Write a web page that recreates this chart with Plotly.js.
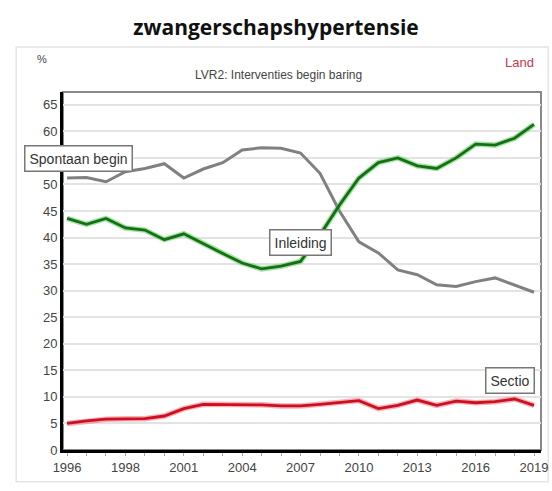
<!DOCTYPE html>
<html>
<head>
<meta charset="utf-8">
<script src="https://cdn.plot.ly/plotly-3.0.1.min.js"></script>
<style>html,body{margin:0;padding:0;background:#fff;}#chart{width:552px;height:491px;}</style>
</head>
<body>
<div id="chart"></div>
<script>
const years = [1995,1996,1997,1998,1999,2000,2001,2002,2003,2004,2005,2006,2007,2008,2009,2010,2011,2012,2013,2014,2015,2016,2017,2018,2019];
const spontaan = [51.2,51.3,50.5,52.4,53.0,53.9,51.2,52.9,54.1,56.5,56.9,56.8,55.9,52.1,45.0,39.2,37.1,33.9,33.0,31.1,30.8,31.7,32.4,31.1,29.7];
const inleiding = [43.6,42.5,43.6,41.8,41.4,39.6,40.7,38.8,37.0,35.2,34.1,34.6,35.5,40.5,46.1,51.2,54.1,55.0,53.5,53.0,55.0,57.6,57.4,58.7,61.3];
const sectio = [5.0,5.5,5.8,5.9,5.9,6.4,7.8,8.6,8.6,8.6,8.5,8.3,8.3,8.6,8.9,9.3,7.8,8.4,9.4,8.4,9.2,8.9,9.1,9.6,8.4];
const tickVals = [1995,1998,2001,2004,2007,2010,2013,2016,2019];
const tickText = ["1996","1998","2001","2004","2007","2010","2013","2016","2019"];
const yTicks = [0,5,10,15,20,25,30,35,40,45,50,55,60,65];
const yTickText = ["0","5","10","15","20","25","30","35","40","45","50","","60","65"];

const traces = [
  {x: years, y: spontaan, mode: 'lines', line: {color: '#808080', width: 3}, hoverinfo: 'skip'},
  {x: years, y: inleiding, mode: 'lines', line: {color: 'rgba(90,200,90,0.55)', width: 5.5}, hoverinfo: 'skip'},
  {x: years, y: inleiding, mode: 'lines', line: {color: '#157015', width: 2.8}, hoverinfo: 'skip'},
  {x: years, y: sectio, mode: 'lines', line: {color: 'rgba(240,110,130,0.55)', width: 5.5}, hoverinfo: 'skip'},
  {x: years, y: sectio, mode: 'lines', line: {color: '#cc1020', width: 2.8}, hoverinfo: 'skip'}
];

const boxFont = {family: 'Liberation Sans, Arial, sans-serif', size: 14, color: '#333'};
const tickFont = {family: 'Liberation Sans, Arial, sans-serif', size: 13, color: '#444'};
const layout = {
  width: 552, height: 491,
  margin: {l: 63, r: 11, t: 92, b: 41},
  paper_bgcolor: '#fff', plot_bgcolor: '#fff',
  showlegend: false,
  title: {text: '<b>zwangerschapshypertensie</b>', x: 0.5, xanchor: 'center', y: 0.943, yanchor: 'middle',
          font: {family: 'Open Sans, sans-serif', size: 21, color: '#111'}},
  xaxis: {
    range: [1994.79, 2019.36], tickvals: tickVals, ticktext: tickText,
    showgrid: false, zeroline: false, showline: true, linecolor: '#000', linewidth: 3,
    ticks: '', tickfont: tickFont, ticklabelstandoff: 3,
    minor: {tick0: 1995, dtick: 1, ticks: 'outside', ticklen: 3, tickcolor: '#aaa', showgrid: false}
  },
  yaxis: {
    range: [0, 67.4], tickvals: yTicks, ticktext: yTickText, showgrid: true, gridcolor: '#e3e3e3', gridwidth: 2,
    zeroline: false, showline: true, linecolor: '#000', linewidth: 3, ticks: '',
    tickfont: tickFont
  },
  shapes: [
    {type: 'rect', xref: 'paper', yref: 'paper', x0: 0, x1: 1, y0: 0, y1: 1, line: {color: '#888', width: 2}, layer: 'below'},
    {type: 'rect', xref: 'paper', yref: 'paper', x0: -0.098, x1: 1.015, y0: -0.089, y1: 1.126, line: {color: '#e4e4e4', width: 1.5}, layer: 'below'}
  ],
  annotations: [
    {xref: 'paper', yref: 'paper', x: -0.044, y: 1.093, text: '%', showarrow: false, xanchor: 'center', yanchor: 'middle',
     font: {family: 'Liberation Sans, Arial, sans-serif', size: 11, color: '#444'}},
    {xref: 'paper', yref: 'paper', x: 0.45, y: 1.048, text: 'LVR2: Interventies begin baring', showarrow: false, xanchor: 'center', yanchor: 'middle',
     font: {family: 'Liberation Sans, Arial, sans-serif', size: 12, color: '#444'}},
    {xref: 'paper', yref: 'paper', x: 0.955, y: 1.082, text: 'Land', showarrow: false, xanchor: 'center', yanchor: 'middle',
     font: {family: 'Liberation Sans, Arial, sans-serif', size: 13, color: '#c8364a'}},
    {x: 1995.6, y: 54.9, text: 'Spontaan begin', showarrow: false, xanchor: 'center', yanchor: 'middle',
     bgcolor: '#fff', bordercolor: '#777', borderwidth: 1.5, borderpad: 4, font: boxFont},
    {x: 2007.0, y: 39.1, text: 'Inleiding', showarrow: false, xanchor: 'center', yanchor: 'middle',
     bgcolor: '#fff', bordercolor: '#777', borderwidth: 1.5, borderpad: 4, font: boxFont},
    {x: 2017.76, y: 13.0, text: 'Sectio', showarrow: false, xanchor: 'center', yanchor: 'middle',
     bgcolor: '#fff', bordercolor: '#777', borderwidth: 1.5, borderpad: 4, font: boxFont}
  ]
};
Plotly.newPlot('chart', traces, layout, {displayModeBar: false, staticPlot: true});
</script>
</body>
</html>
